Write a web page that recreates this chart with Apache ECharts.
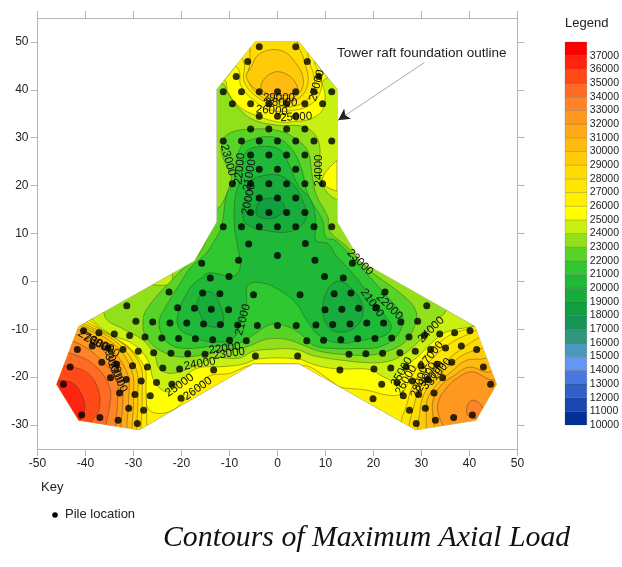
<!DOCTYPE html>
<html><head><meta charset="utf-8">
<style>html,body{margin:0;padding:0;background:#fff}#c{width:622px;height:567px}</style>
<script src="https://cdn.jsdelivr.net/npm/echarts@6/dist/echarts.min.js"></script></head>
<body><div id="c"></div>
<script>
const xTicks=[-50,-40,-30,-20,-10,0,10,20,30,40,50];
const yTicks=[-30,-20,-10,0,10,20,30,40,50];
const legendLevels=[10000,11000,12000,13000,14000,15000,16000,17000,18000,19000,20000,21000,22000,23000,24000,25000,26000,27000,28000,29000,30000,31000,32000,33000,34000,35000,36000,37000];
const legendColors=['#003098','#1848b0','#3060c8','#4878e0','#6496f8','#4a98c0','#30967c','#189458','#10a040','#18ac3c','#20b838','#30c830','#58d428','#92e01c','#c8f010','#ffff00','#fff000','#ffe600','#ffdb00','#ffcb08','#ffbb10','#ffa818','#ff9820','#ff8428','#ff6a24','#ff4a18','#ff2410','#ff0000'];

const raftOutline=[[-4.6,50.1],[4.4,50.1],[12.4,40.1],[12.4,12.4],[17.2,4.2],[41.1,-9.4],[45.6,-21.5],[41.3,-29],[28.8,-31],[4.5,-17.2],[-5.1,-17.2],[-28.8,-31],[-41.4,-29],[-46,-21.5],[-41.4,-9.4],[-17.3,4.2],[-12.6,12.4],[-12.6,40.1]];

const below25000=[[-14.2,42.6],[-11,42],[-10.3,39.5],[-7.85,36.4],[-4.4,34.65],[0.14,33.3],[3.6,33.4],[7.1,34],[9.5,36],[9.9,38.8],[9.6,42],[14.3,42.6],[15,30],[14,25.3],[12.4,25.3],[9.3,20.9],[12.4,18.8],[14,18.8],[20,7],[35,-4],[45,-8],[40.6,-9.4],[35.1,-10.6],[32.4,-12.6],[29.6,-15.4],[27.1,-17.5],[24.4,-20.6],[22,-19.9],[19.2,-18.4],[14,-18.3],[10.8,-18.1],[7.4,-17.3],[4.2,-16.2],[-4.1,-16.2],[-7.2,-17.3],[-11.4,-17.8],[-16.9,-18.2],[-20.4,-21],[-22.8,-23.1],[-25.6,-21],[-27,-16.5],[-30.1,-13.1],[-34.6,-11.1],[-38.5,-8],[-39.2,-5],[-20,7],[-15,16],[-15,30]];
const below24000=[[-16,41],[-11.5,41.3],[-10.3,39.2],[-7.85,35.9],[-4.7,33.6],[0.14,32.6],[5.7,32.2],[8.5,29.4],[8.8,23.5],[9.2,20.8],[10.4,18.5],[12.4,17],[16,15],[25,6],[35,-3],[35.1,-6.2],[33,-8.1],[30.3,-11.6],[28.2,-13.7],[25.4,-15.8],[22.6,-16.8],[19.2,-17],[12.9,-16.4],[7.4,-15.5],[3.9,-14.2],[-1.7,-14.2],[-5.1,-14.6],[-7.9,-16],[-13.5,-16],[-16.2,-17.2],[-21.8,-19.2],[-24.6,-18.2],[-25.6,-15.4],[-28,-12.3],[-32.2,-9.9],[-35.7,-7.8],[-35.7,-5],[-28.4,-1],[-22.2,-0.5],[-21.8,1.9],[-19,7],[-15,15],[-16,30]];
const below23000=[[-11.3,29.4],[-10.3,30.8],[-6.8,31.7],[0.14,31.5],[4.3,29.4],[6.4,27],[7.1,22.9],[8.1,18],[10.5,13.4],[10.8,10.6],[14.6,7.1],[19.2,2.3],[26.1,-2.9],[28.9,-6.4],[28.2,-10.2],[26.1,-13],[22.6,-14.7],[19.2,-15.4],[14.3,-15.3],[8.8,-14.6],[5.3,-13.3],[1.8,-12.1],[-2.4,-12.1],[-6.5,-13.7],[-11.4,-14.3],[-19,-15.8],[-23.9,-14.7],[-27.4,-11.6],[-28,-8.1],[-27,-5.4],[-21.8,0.55],[-19,3.3],[-16.5,5.5],[-14.5,9.5],[-13.4,15.2],[-12,15.5],[-9.6,21.5],[-10.3,23.5],[-11.7,27]];
const below22000=[[-7.85,27.7],[-6.1,29.4],[-0.55,30.1],[2.9,27.7],[5,23.5],[6.4,18],[9.4,12.7],[10.1,9.2],[12.2,8.5],[19.2,0.9],[22.6,-2.9],[25.8,-6.7],[26.1,-8.8],[24.7,-11.6],[21.2,-13.7],[16.4,-14],[11.5,-14],[7.4,-13.3],[4.6,-10.8],[1.1,-9.1],[-1.7,-9.1],[-5.1,-11.2],[-7.9,-12.9],[-14.2,-13.6],[-19,-14],[-22.2,-13.3],[-24.2,-10.9],[-24.6,-8.1],[-23.5,-5.7],[-19.7,0.55],[-18,3],[-14.9,5.8],[-13.5,7.9],[-11.7,11.4],[-10.6,18.3],[-9.4,20],[-8.5,24.9]];
const below21000=[[-6.8,26.7],[-4.7,28],[0.14,27.7],[2.2,24.9],[4.3,20],[7,16.9],[8,12],[8,8.6],[10.5,7.85],[12.2,5.4],[15.7,1.6],[19.2,-2.9],[22,-6.7],[23.7,-9.5],[22.3,-11.3],[19.2,-12],[17.1,-12.4],[13,-12.9],[8.7,-11.3],[6,-8],[3.9,-4.6],[0.4,-1.8],[-3.4,-0.3],[-6.2,-0.8],[-6.5,-4.6],[-7.9,-9.1],[-9.3,-11.9],[-14.2,-12.6],[-18.3,-11.2],[-20.4,-9.9],[-20.8,-7.1],[-18.3,-1.5],[-15.9,0.64],[-14.2,1.8],[-9.3,1.1],[-7.9,2.4],[-7.9,5],[-8.3,7.2],[-9,12],[-8.75,18],[-7.85,20.8],[-7.36,23.5]];
const below20000Tower=[[-6.5,17.6],[-5.4,21],[-3.3,22],[0.14,22.2],[3,20.5],[4.9,17.6],[6,13.4],[3.2,10.6],[-2.4,10.6],[-6.5,12],[-7.2,14.1]];
const below20000Left=[[-14.2,-2.1],[-12.1,-4.6],[-11.4,-8.7],[-14.2,-9.4],[-16.2,-6.7],[-16.6,-3.9]];
const below20000Right=[[12.2,-0.05],[15,-1.1],[17.8,-5.3],[16.4,-9.4],[12.2,-10.5],[9.8,-8],[9.8,-3.2]];
const below19000Tower=[[-4.5,14.8],[-3.4,16.9],[-0.28,17.2],[1.45,15.5],[-0.28,13.4],[-3.75,13.4]];

const towerAbove26000=[[-10,46.8],[-8,44],[-7.6,40.8],[-4.8,37.7],[-1.7,35.8],[2.5,35.6],[7,37],[9.1,40.2],[8.75,43.3],[7.7,46],[9.4,47],[0.4,53],[-7.9,50]];
const towerAbove27000=[[-7.9,48.5],[-6.9,45.4],[-6.9,41.6],[-4.1,38.4],[-0.3,36.7],[3.9,36.7],[7,38.8],[7.7,42.2],[6.3,47.5],[7.4,49.5],[0,53]];
const towerAbove28000=[[-5.5,50.5],[-5.8,45.4],[-6.2,42.2],[-3.75,38.8],[0.4,37.5],[4.2,38.1],[6.3,41.2],[5.6,46],[3.9,50.5],[3.9,53],[-4.4,53]];
const towerAbove29000=[[-6.5,42.6],[-5.5,44.7],[-3.75,47.5],[0.4,48.3],[3.5,46],[5.4,41.9],[3.9,38.8],[-0.3,38.1],[-3.75,39.5]];
const towerAbove30000=[[-3.4,41.2],[-1,43.6],[1.8,43.3],[3.9,41.2],[3.9,39.5],[0.4,38.8],[-2.7,39.5]];

const leftAbove26000=[[-39.5,-7.8],[-35,-11.5],[-31,-13.7],[-28.4,-17.8],[-27.5,-22.7],[-26.7,-26.9],[-22.5,-27.2],[-18.7,-24.1],[-14.5,-19.9],[-10,-19.2],[-5.2,-17.7],[-4,-21],[-28,-35],[-46,-33],[-50,-22],[-44,-5]];
const leftAbove27000=[[-40,-8.3],[-32.9,-12.4],[-27.9,-17.5],[-27.4,-22.7],[-27.2,-30],[-27,-34],[-46,-33],[-50,-22],[-44,-5]];
const leftAbove28000=[[-40.5,-8.6],[-33.3,-12.2],[-28.7,-17.2],[-28.2,-23.4],[-28.4,-31.2],[-28,-35],[-46,-33],[-50,-22],[-44,-5]];
const leftAbove29000=[[-40.9,-8.8],[-34,-12.3],[-29.6,-17.9],[-29.1,-24.1],[-29.3,-31.2],[-29,-35],[-46,-33],[-50,-22],[-44,-5]];
const leftAbove30000=[[-41.2,-9.2],[-34.7,-12.6],[-30.5,-18.2],[-30,-24.8],[-30.3,-31],[-30,-35],[-46,-33],[-50,-22],[-45,-6]];
const leftAbove31000=[[-41.8,-9.9],[-35.7,-13.3],[-31.4,-18.9],[-31,-24.8],[-31.4,-30.9],[-31,-35],[-46,-33],[-50,-22],[-46,-7]];
const leftAbove32000=[[-42.3,-10.9],[-36.4,-14.4],[-32.6,-19.9],[-32.2,-24.8],[-32.6,-30.7],[-32,-35],[-46,-33],[-50,-22],[-47,-9]];
const leftAbove33000=[[-43,-12.3],[-37.8,-15.4],[-33.6,-20.6],[-33.3,-24.8],[-33.7,-30.5],[-33.5,-35],[-46,-33],[-50,-22],[-48,-11]];
const leftAbove34000=[[-44,-14.7],[-38.5,-17.2],[-35,-22],[-35,-26.2],[-35.7,-30],[-35.5,-35],[-46,-33],[-51,-22],[-49,-13]];
const leftAbove35000=[[-44.7,-17.5],[-39.9,-18.9],[-37.4,-22.4],[-37.2,-26.9],[-38.8,-29.5],[-39,-34],[-46,-33],[-51,-23],[-49,-16]];
const leftAbove36000=[[-45.8,-20.6],[-42.6,-21.3],[-40.6,-24.1],[-40.2,-26.9],[-41.2,-29.2],[-42,-33],[-50,-28],[-50,-20]];

const rightAbove26000=[[40.8,-9.4],[35.8,-11.3],[32.4,-14],[29.6,-17.2],[27.5,-20.6],[25.8,-23.4],[23.3,-23.8],[18.5,-22.7],[12.6,-22],[11.5,-21],[5.3,-17.5],[4,-21],[28,-35],[46,-33],[50,-22],[46,-6]];
const rightAbove27000=[[41.4,-10.2],[36.5,-12.6],[33,-15.4],[29.6,-19.2],[27.8,-22.7],[26.8,-26.2],[25.8,-29],[25,-34],[46,-33],[50,-22],[46,-7]];
const rightAbove28000=[[41.7,-11.9],[37.9,-14.4],[34.4,-17.2],[31,-20],[29.2,-23.4],[28.2,-26.9],[27.4,-30],[27,-35],[46,-33],[50,-22],[47,-9]];
const rightAbove29000=[[42.4,-14],[38.6,-15.4],[35.1,-18.2],[32.4,-20.6],[30.3,-24.1],[29.6,-27.6],[29.2,-30.7],[29,-35],[46,-33],[50,-22],[48,-12]];
const rightAbove30000=[[43.1,-16.1],[39.3,-16.5],[36.2,-18.9],[33.4,-21.3],[31.3,-24.4],[31,-27.6],[31,-30.6],[31,-35],[46,-33],[51,-22],[49,-14]];
const rightAbove31000=[[44.2,-18.9],[40,-17.9],[36.9,-19.6],[34.1,-21.7],[32.4,-24.8],[32.4,-28.3],[32.7,-30.3],[33,-35],[46,-33],[52,-22],[50,-16]];
const rightAbove32000=[[44.9,-20.6],[40.7,-18.9],[37.9,-19.9],[35.1,-22.4],[33.4,-25.5],[33.7,-28.3],[34.4,-30],[35,-35],[48,-32],[52,-24],[50,-19]];
const rightAbove33000=[[39.6,-25.8],[40.7,-24.8],[42.4,-25.8],[42.8,-27.6],[41.4,-28.6],[39.6,-27.9]];

// [legend band lower bound, region]
const contourBands=[
[24000,below25000],[23000,below24000],[22000,below23000],[21000,below22000],[20000,below21000],
[19000,below20000Tower],[19000,below20000Left],[19000,below20000Right],[18000,below19000Tower],
[26000,towerAbove26000],[27000,towerAbove27000],[28000,towerAbove28000],[29000,towerAbove29000],[30000,towerAbove30000],
[26000,leftAbove26000],[27000,leftAbove27000],[28000,leftAbove28000],[29000,leftAbove29000],[30000,leftAbove30000],[31000,leftAbove31000],[32000,leftAbove32000],[33000,leftAbove33000],[34000,leftAbove34000],[35000,leftAbove35000],[36000,leftAbove36000],
[26000,rightAbove26000],[27000,rightAbove27000],[28000,rightAbove28000],[29000,rightAbove29000],[30000,rightAbove30000],[31000,rightAbove31000],[32000,rightAbove32000],[33000,rightAbove33000]];

const pilesTower=[[-3.8,49],[3.8,49],[-6.2,45.9],[6.2,45.9],[-8.6,42.8],[8.6,42.8],
[-11.3,39.6],[-7.5,39.6],[-3.8,39.6],[0,39.6],[3.8,39.6],[7.6,39.6],[11.3,39.6],
[-9.4,37.1],[-5.6,37.1],[-1.8,37.1],[1.9,37.1],[5.7,37.1],[9.4,37.1],
[-3.8,34.5],[0,34.5],[3.8,34.5],[-5.6,31.8],[-1.8,31.8],[1.9,31.8],[5.7,31.8],
[-11.3,29.3],[-7.5,29.3],[-3.8,29.3],[0,29.3],[3.8,29.3],[7.6,29.3],[11.3,29.3],
[-5.6,26.4],[-1.8,26.4],[1.9,26.4],[5.7,26.4],[-3.8,23.4],[0,23.4],[3.8,23.4],
[-9.4,20.4],[-5.6,20.4],[-1.8,20.4],[1.9,20.4],[5.7,20.4],[9.4,20.4],
[-3.8,17.4],[0,17.4],[3.8,17.4],[-5.6,14.4],[-1.8,14.4],[1.9,14.4],[5.7,14.4],
[-11.3,11.4],[-7.5,11.4],[-3.8,11.4],[0,11.4],[3.8,11.4],[7.6,11.4],[11.3,11.4],
[-6,7.8],[5.8,7.9],[0,5.4]];
const pilesLeft=[[-15.8,3.8],[-8.1,4.4],[-14,0.7],[-10.1,1],[-22.6,-2.2],[-15.6,-2.4],[-12,-2.6],[-5,-2.8],
[-31.4,-5.1],[-20.8,-5.5],[-17.3,-5.6],[-13.8,-5.8],[-10.2,-5.9],
[-29.5,-8.3],[-26,-8.5],[-22.4,-8.7],[-18.9,-8.7],[-15.4,-8.9],[-11.9,-9],[-8.3,-9.1],[-4.2,-9.2],[0,-9.2],
[-40.4,-10.3],[-37.2,-10.7],[-34,-11],[-30.8,-11.3],[-27.6,-11.6],[-24.1,-11.8],[-20.6,-11.9],[-17.1,-12],[-13.5,-12.2],[-10,-12.3],[-6.5,-12.4],
[-38.6,-13.5],[-35.3,-13.9],[-32.2,-14.2],[-29,-14.6],[-25.8,-14.9],[-22.2,-15],[-18.7,-15.1],[-15.1,-15.2],[-41.7,-14.2],[-4.6,-15.6],
[-36.6,-16.9],[-33.5,-17.3],[-30.2,-17.6],[-27.1,-17.9],[-23.9,-18.1],[-20.4,-18.3],[-43.2,-17.9],[-13.3,-18.5],
[-34.8,-20.1],[-31.5,-20.5],[-28.4,-20.8],[-25.2,-21.1],[-22,-21.5],[-44.6,-21.5],
[-32.9,-23.3],[-29.7,-23.6],[-26.5,-23.9],[-20.1,-24.4],[-31,-26.5],[-27.9,-26.9],[-40.8,-27.9],[-37,-28.4],[-33.2,-29],[-29.2,-29.7]];
const pilesRight=[[15.6,3.8],[7.8,4.4],[9.8,1],[13.7,0.7],[22.4,-2.2],[4.7,-2.8],[11.8,-2.6],[15.3,-2.4],
[31.1,-5.1],[9.9,-5.9],[13.4,-5.8],[16.9,-5.6],[20.5,-5.5],
[29.2,-8.3],[25.7,-8.5],[22.1,-8.7],[18.6,-8.7],[15.1,-8.9],[11.5,-9],[8,-9.1],[3.9,-9.2],
[40.1,-10.3],[36.9,-10.7],[33.8,-11],[30.6,-11.3],[27.4,-11.6],[23.8,-11.8],[20.3,-11.9],[16.7,-12],[13.2,-12.2],[9.6,-12.3],[6.1,-12.4],
[38.3,-13.5],[35,-13.9],[31.9,-14.2],[28.7,-14.6],[25.5,-14.9],[21.9,-15],[18.4,-15.1],[14.9,-15.2],[41.5,-14.2],[4.2,-15.6],
[36.3,-16.9],[33.2,-17.3],[29.9,-17.6],[26.8,-17.9],[23.6,-18.1],[20.1,-18.3],[42.9,-17.9],[13,-18.5],
[34.4,-20.1],[31.3,-20.5],[28.1,-20.8],[24.9,-21.1],[21.7,-21.5],[44.4,-21.5],
[32.6,-23.3],[29.4,-23.6],[26.2,-23.9],[19.9,-24.5],[30.8,-26.5],[27.5,-26.9],[40.6,-27.9],[36.7,-28.4],[32.9,-29],[28.9,-29.7]];

// [text, x, y, rotation in degrees]
const contourLabels=[['29000',0.3,38.4,0],['28000',0.8,37.25,0],['26000',-1.2,35.65,-5],['25000',3.9,34.3,3],['27000',8.2,40.9,75],['24000',8.6,23.15,90],
['23000',-10.3,25.3,-75],['22000',-7.85,23.5,85],['21000',-5.8,22.2,80],['20000',-6,17.2,78],
['23000',17.2,4,-45],['22000',23.3,-5.3,-45],['21000',19.7,-4.5,-55],['24000',32,-10.1,45],['27000',32,-15.4,50],['25000',25.9,-18.9,60],['26000',26.8,-20.6,60],['28000',29.6,-21,70],['29000',31,-20,60],['30000',32.4,-19.6,55],['31000',33.7,-18.9,50],
['21000',-7.2,-8,75],['22000',-11,-14,8],['23000',-10.1,-15.1,8],['24000',-16.2,-17.2,10],['25000',-20.4,-21.7,35],['26000',-16.6,-22.4,35],
['27000',-38.5,-12.3,-30],['26000',-37.2,-13,-25],['28000',-36,-13.7,-30],['29000',-34.6,-16.1,-65],['30000',-34,-18.2,-65],['31000',-33.3,-20,-65]];

const legendTitle='Legend';
const keyTitle='Key';
const keyEntry='Pile location';
const chartTitle='Contours of Maximum Axial Load';
const calloutText='Tower raft foundation outline';

const AXIS='#b4b4b4', INK='#222';
const chart=echarts.init(document.getElementById('c'),null,{renderer:'canvas'});
const toPx=(api,p)=>p.map(q=>api.coord(q));
const colorOf=l=>legendColors[legendLevels.indexOf(l)];
const line={onZero:false,lineStyle:{color:AXIS}};

chart.setOption({
 animation:false,
 grid:[{left:37.5,top:18,width:480,height:431},{left:565,top:42,width:24,height:383}],
 xAxis:[
  {gridIndex:0,type:'value',min:-50,max:50,interval:10,position:'bottom',splitLine:{show:false},axisLine:line,axisTick:{length:7,lineStyle:{color:AXIS}},axisLabel:{color:INK,fontFamily:'Liberation Sans',fontSize:12,margin:9,formatter:v=>String(v)}},
  {gridIndex:0,type:'value',min:-50,max:50,interval:10,position:'top',splitLine:{show:false},axisLine:line,axisTick:{length:7,lineStyle:{color:AXIS}},axisLabel:{show:false}},
  {gridIndex:1,type:'value',min:0,max:1,show:false}
 ],
 yAxis:[
  {gridIndex:0,type:'value',min:-35,max:55,position:'left',splitLine:{show:false},axisLine:line,axisTick:{length:7,customValues:yTicks,lineStyle:{color:AXIS}},axisLabel:{customValues:yTicks,color:INK,fontFamily:'Liberation Sans',fontSize:12,margin:9,formatter:v=>String(v)}},
  {gridIndex:0,type:'value',min:-35,max:55,position:'right',splitLine:{show:false},axisLine:line,axisTick:{length:7,customValues:yTicks,lineStyle:{color:AXIS}},axisLabel:{show:false}},
  {gridIndex:1,type:'value',min:10000,max:38000,interval:1000,position:'right',splitLine:{show:false},axisLine:{show:false},axisTick:{show:false},axisLabel:{customValues:legendLevels,color:INK,fontFamily:'Liberation Sans',fontSize:10.5,margin:3,formatter:v=>String(v)}}
 ],
 series:[
  {type:'custom',coordinateSystem:'cartesian2d',xAxisIndex:0,yAxisIndex:0,clip:false,z:1,data:[[0,0]],silent:true,
   renderItem:(p,api)=>({type:'polygon',shape:{points:toPx(api,raftOutline)},style:{fill:colorOf(25000),stroke:'#8a8a70',lineWidth:0.8}})},
  {type:'custom',coordinateSystem:'cartesian2d',xAxisIndex:0,yAxisIndex:0,clip:false,z:2,silent:true,
   data:contourBands.map((b,i)=>[i,b[0]]),
   renderItem:(p,api)=>{const b=contourBands[p.dataIndex];
    return {type:'polygon',shape:{points:toPx(api,b[1]),smooth:0.4},
     style:{fill:colorOf(b[0]),stroke:'rgba(50,50,20,0.55)',lineWidth:0.7},
     clipPath:{type:'polygon',shape:{points:toPx(api,raftOutline)}}};}},
  {type:'custom',coordinateSystem:'cartesian2d',xAxisIndex:0,yAxisIndex:0,clip:false,z:3,silent:true,
   data:contourLabels.map(l=>[l[1],l[2]]),
   renderItem:(p,api)=>{const l=contourLabels[p.dataIndex],c=api.coord([l[1],l[2]]);
    return {type:'text',x:c[0],y:c[1],rotation:l[3]*Math.PI/180,
     style:{text:l[0],fill:'#111',font:'11.5px "Liberation Sans"',align:'center',verticalAlign:'middle'}};}},
  {type:'scatter',xAxisIndex:0,yAxisIndex:0,z:4,symbolSize:7,itemStyle:{color:'#000'},silent:true,
   data:pilesTower.concat(pilesLeft,pilesRight),
   markLine:{silent:true,symbol:['none','arrow'],symbolSize:[9,11],label:{show:false},
    data:[[{coord:[30.6,45.7],lineStyle:{color:'#aaa',width:1,type:'solid'}},{coord:[12.7,33.7]}],
          [{coord:[14,34.6],lineStyle:{color:'#222',width:1,type:'solid'}},{coord:[12.7,33.7]}]]}},
  {type:'custom',coordinateSystem:'cartesian2d',xAxisIndex:2,yAxisIndex:2,clip:false,z:1,silent:true,
   data:legendLevels.map(l=>[0,l]),
   renderItem:(p,api)=>{const l=legendLevels[p.dataIndex],a=api.coord([0,l]),b=api.coord([1,l+1000]);
    return {type:'rect',shape:{x:a[0],y:b[1],width:b[0]-a[0],height:a[1]-b[1]},
     style:{fill:legendColors[p.dataIndex],stroke:'rgba(70,60,20,0.28)',lineWidth:0.7}};}}
 ],
 graphic:[
  {type:'text',left:565,top:17,style:{text:legendTitle,font:'13px "Liberation Sans"',fill:INK}},
  {type:'text',left:337,top:46,style:{text:calloutText,font:'13.5px "Liberation Sans"',fill:INK}},
  {type:'text',left:41,top:481,style:{text:keyTitle,font:'13px "Liberation Sans"',fill:INK}},
  {type:'circle',shape:{cx:55,cy:515,r:2.8},style:{fill:'#000'}},
  {type:'text',left:65,top:508,style:{text:keyEntry,font:'13px "Liberation Sans"',fill:INK}},
  {type:'text',left:163,top:523,style:{text:chartTitle,font:'italic 29.8px "Liberation Serif"',fill:'#111'}}
 ]
});
</script></body></html>
